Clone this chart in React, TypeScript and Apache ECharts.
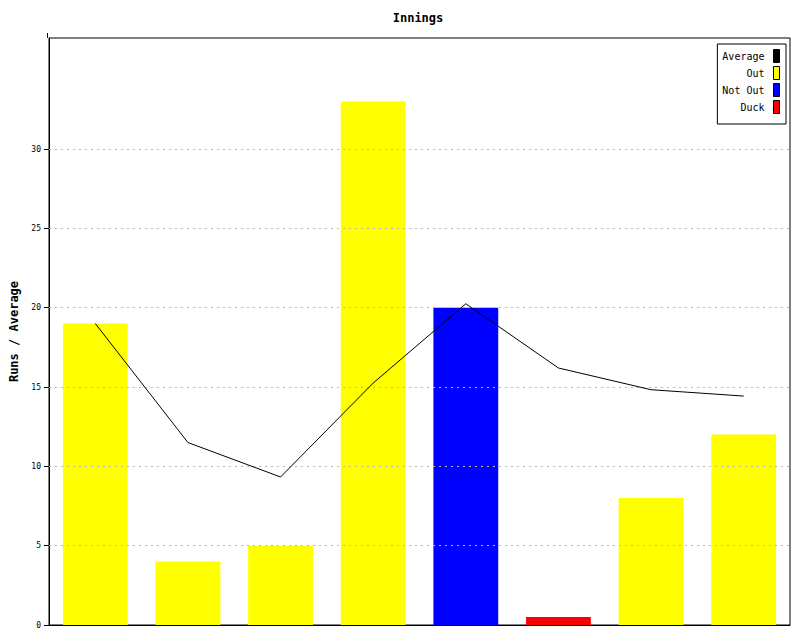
import React, { useEffect, useRef } from "react";
import * as echarts from "echarts";

const categories = ["1", "2", "3", "4", "5", "6", "7", "8"];
const runs = [19, 4, 5, 33, 20, 0.5, 8, 12];
const status = ["Out", "Out", "Out", "Out", "Not Out", "Duck", "Out", "Out"];
const average = [19, 11.5, 9.33, 15.25, 20.25, 16.2, 14.83, 14.43];
const tickValues = [0, 5, 10, 15, 20, 25, 30];
const gridValues = [5, 10, 15, 20, 25, 30];

const FONT = "DejaVu Sans Mono";

export default function App() {
  const ref = useRef<HTMLDivElement>(null);
  useEffect(() => {
    if (!ref.current) return;
    const chart = echarts.init(ref.current, null, { renderer: "svg" });
    const pick = (s: string) => runs.map((v, i) => (status[i] === s ? v : null));
    chart.setOption({
      animation: false,
      backgroundColor: "#fff",
      title: {
        text: "Innings",
        left: 413,
        top: 7,
        textAlign: "center",
        textStyle: { fontFamily: FONT, fontSize: 12, fontWeight: "bold", color: "#000" },
      },
      legend: {
        orient: "vertical",
        right: 14,
        top: 44,
        align: "right",
        itemWidth: 6,
        itemHeight: 13,
        itemGap: 3,
        padding: [5, 6, 10, 5],
        borderColor: "#000",
        borderWidth: 1,
        backgroundColor: "#fff",
        icon: "rect",
        itemStyle: { borderColor: "#000", borderWidth: 1 },
        textStyle: { fontFamily: FONT, fontSize: 10, color: "#000", width: 43, align: "right", padding: [0, 4, 0, 0] },
        data: ["Average", "Out", "Not Out", "Duck"],
      },
      grid: {
        left: 47,
        right: 10,
        top: 38,
        bottom: 15,
        show: true,
        borderColor: "#000",
        borderWidth: 1,
      },
      xAxis: {
        type: "category",
        data: categories,
        axisLine: { lineStyle: { color: "#000" } },
        axisTick: { show: false },
        axisLabel: { show: false },
      },
      yAxis: {
        type: "value",
        min: 0,
        max: 37,
        interval: 5,
        name: "Runs / Average",
        nameLocation: "middle",
        nameGap: 29,
        nameTextStyle: { fontFamily: FONT, fontSize: 12, fontWeight: "bold", color: "#000" },
        axisLine: { show: true, lineStyle: { color: "#000" } },
        axisTick: { show: true, length: 5, lineStyle: { color: "#000" }, customValues: tickValues },
        axisLabel: { fontFamily: FONT, fontSize: 8, color: "#000", margin: 8, customValues: tickValues },
        splitLine: { show: false },
      },
      graphic: [
        { type: "line", shape: { x1: 47.5, y1: 33, x2: 47.5, y2: 38 }, style: { stroke: "#000", lineWidth: 1 } },
      ],
      series: [
        {
          name: "Out",
          type: "bar",
          data: pick("Out"),
          barCategoryGap: "30%",
          barGap: "-100%",
          itemStyle: { color: "#ffff00" },
          markLine: {
            silent: true,
            symbol: "none",
            label: { show: false },
            lineStyle: { color: "#b8b8b8", type: [2, 4], width: 1 },
            data: gridValues.map((v) => ({ yAxis: v })),
          },
        },
        {
          name: "Not Out",
          type: "bar",
          data: pick("Not Out"),
          barCategoryGap: "30%",
          barGap: "-100%",
          itemStyle: { color: "#0000ff" },
        },
        {
          name: "Duck",
          type: "bar",
          data: pick("Duck"),
          barCategoryGap: "30%",
          barGap: "-100%",
          itemStyle: { color: "#ff0000" },
        },
        {
          name: "Average",
          type: "line",
          data: average,
          showSymbol: false,
          symbol: "none",
          itemStyle: { color: "#000" },
          lineStyle: { color: "#000", width: 1 },
          z: 5,
        },
      ],
    });
    return () => chart.dispose();
  }, []);
  return (
    <div
      ref={ref}
      style={{ position: "absolute", left: 0, top: 0, width: 800, height: 640 }}
    />
  );
}
